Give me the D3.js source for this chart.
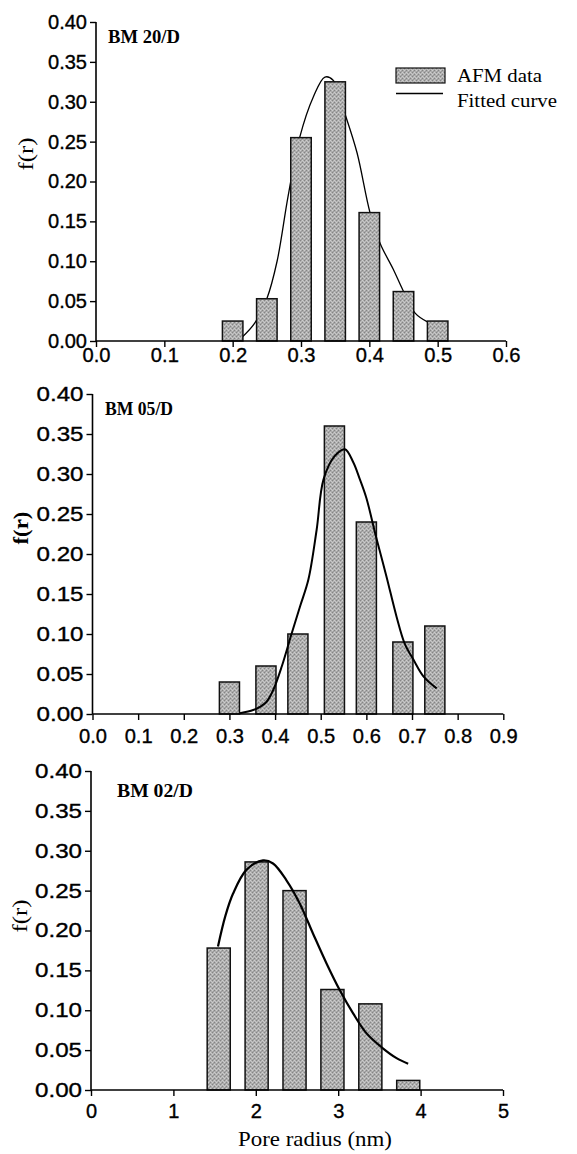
<!DOCTYPE html>
<html>
<head>
<meta charset="utf-8">
<script src="https://cdn.jsdelivr.net/npm/d3@7"></script>
<style>
  html, body { margin: 0; padding: 0; background: #fff; }
  svg { display: block; }
</style>
</head>
<body>
<svg id="chart" width="577" height="1154"></svg>
<script>
// ---------------- data ----------------
const yTickValues = [0, 0.05, 0.10, 0.15, 0.20, 0.25, 0.30, 0.35, 0.40];
const yTickLabels = ["0.00", "0.05", "0.10", "0.15", "0.20", "0.25", "0.30", "0.35", "0.40"];

// Panel 1 : BM 20/D
const p1Label = "BM 20/D";
const p1XTicks = [0, 0.1, 0.2, 0.3, 0.4, 0.5, 0.6];
const p1XTickLabels = ["0.0", "0.1", "0.2", "0.3", "0.4", "0.5", "0.6"];
const p1BarR = [0.20, 0.25, 0.30, 0.35, 0.40, 0.45, 0.50];
const p1BarF = [0.025, 0.053, 0.255, 0.325, 0.161, 0.062, 0.025];
const p1CurveR = [0.213, 0.232, 0.250, 0.265, 0.281, 0.298, 0.318, 0.335, 0.347, 0.365, 0.382, 0.401, 0.416, 0.435, 0.449, 0.467, 0.485];
const p1CurveF = [0.004, 0.022, 0.053, 0.100, 0.181, 0.255, 0.306, 0.331, 0.327, 0.283, 0.236, 0.161, 0.122, 0.090, 0.064, 0.035, 0.024];

// Panel 2 : BM 05/D
const p2Label = "BM 05/D";
const p2XTicks = [0, 0.1, 0.2, 0.3, 0.4, 0.5, 0.6, 0.7, 0.8, 0.9];
const p2XTickLabels = ["0.0", "0.1", "0.2", "0.3", "0.4", "0.5", "0.6", "0.7", "0.8", "0.9"];
const p2BarR = [0.30, 0.38, 0.45, 0.53, 0.60, 0.68, 0.75];
const p2BarF = [0.040, 0.060, 0.100, 0.360, 0.240, 0.090, 0.110];
const p2CurveR = [0.323, 0.352, 0.367, 0.381, 0.396, 0.415, 0.436, 0.455, 0.473, 0.491, 0.506, 0.530, 0.553, 0.571, 0.586, 0.600, 0.621, 0.644, 0.666, 0.684, 0.703, 0.725, 0.754];
const p2CurveF = [0.001, 0.005, 0.009, 0.015, 0.030, 0.060, 0.100, 0.135, 0.168, 0.230, 0.293, 0.322, 0.331, 0.315, 0.293, 0.270, 0.222, 0.172, 0.122, 0.088, 0.068, 0.047, 0.032];

// Panel 3 : BM 02/D
const p3Label = "BM 02/D";
const p3XTicks = [0, 1, 2, 3, 4, 5];
const p3XTickLabels = ["0", "1", "2", "3", "4", "5"];
const p3BarR = [1.55, 2.01, 2.47, 2.93, 3.39, 3.85];
const p3BarF = [0.178, 0.286, 0.250, 0.126, 0.108, 0.012];
const p3CurveR = [1.541, 1.630, 1.723, 1.886, 2.088, 2.209, 2.372, 2.533, 2.695, 2.857, 3.020, 3.181, 3.344, 3.546, 3.708, 3.849];
const p3CurveF = [0.180, 0.218, 0.246, 0.276, 0.288, 0.284, 0.263, 0.234, 0.196, 0.159, 0.125, 0.096, 0.071, 0.052, 0.040, 0.033];

const yAxisTitle = "f(r)";
const xAxisTitle = "Pore radius (nm)";
const legendBars = "AFM data";
const legendCurve = "Fitted curve";

// ---------------- drawing ----------------
const svg = d3.select("#chart");
const defs = svg.append("defs");
const pat = defs.append("pattern").attr("id", "tex")
  .attr("width", 4).attr("height", 4).attr("patternUnits", "userSpaceOnUse");
pat.append("rect").attr("width", 4).attr("height", 4).attr("fill", "#adadad");
[[0,0,"#858585"],[2,2,"#858585"],[2,0,"#cfcfcf"],[0,2,"#cfcfcf"],[1,3,"#9a9a9a"],[3,1,"#c4c4c4"],[1,1,"#bdbdbd"]]
  .forEach(([x,y,c]) => pat.append("rect").attr("x", x).attr("y", y).attr("width", 1).attr("height", 1).attr("fill", c));

const SANS = "'Liberation Sans', Arial, sans-serif";
const SERIF = "'Liberation Serif', 'Times New Roman', serif";

const panels = [
  { label: p1Label, xTicks: p1XTicks, xTickLabels: p1XTickLabels, barR: p1BarR, barF: p1BarF,
    curveR: p1CurveR, curveF: p1CurveF, xMax: 0.6, barW: 0.03,
    left: 96, right: 506, top: 22, bottom: 341, xLabOff: 21, xLabLen: 28, yLabLen: 39,
    curveW: 1.3, curveOnTop: false,
    title: { x: 108, y: 43, len: 72 }, fr: { x: 26, y: 154, bold: false } },
  { label: p2Label, xTicks: p2XTicks, xTickLabels: p2XTickLabels, barR: p2BarR, barF: p2BarF,
    curveR: p2CurveR, curveF: p2CurveF, xMax: 0.9, barW: 0.044,
    left: 92.5, right: 503.3, top: 394, bottom: 714, xLabOff: 29, xLabLen: 28, yLabLen: 47,
    curveW: 2, curveOnTop: true,
    title: { x: 105, y: 415, len: 68 }, fr: { x: 21, y: 528, bold: true } },
  { label: p3Label, xTicks: p3XTicks, xTickLabels: p3XTickLabels, barR: p3BarR, barF: p3BarF,
    curveR: p3CurveR, curveF: p3CurveF, xMax: 5, barW: 0.28,
    left: 91, right: 503, top: 771, bottom: 1090, xLabOff: 28, xLabLen: null, yLabLen: 47,
    curveW: 2.2, curveOnTop: true,
    title: { x: 117, y: 797, len: 76 }, fr: { x: 20, y: 916, bold: false } }
];

panels.forEach((p, i) => {
  const x = d3.scaleLinear().domain([0, p.xMax]).range([p.left, p.right]);
  const y = d3.scaleLinear().domain([0, 0.4]).range([p.bottom, p.top]);
  const g = svg.append("g");

  const curvePts = p.curveR.map((r, k) => [r, p.curveF[k]]);
  const line = d3.line().x(d => x(d[0])).y(d => y(d[1])).curve(d3.curveCatmullRom.alpha(0.5));

  const drawCurve = () => g.append("path").attr("d", line(curvePts))
    .attr("fill", "none").attr("stroke", "#000").attr("stroke-width", p.curveW)
    .attr("stroke-linejoin", "round");

  if (!p.curveOnTop) drawCurve();

  g.selectAll("rect.bar").data(p.barR).enter().append("rect").attr("class", "bar")
    .attr("x", (r) => x(r - p.barW / 2))
    .attr("width", x(p.barW) - x(0))
    .attr("y", (r, k) => y(p.barF[k]))
    .attr("height", (r, k) => y(0) - y(p.barF[k]))
    .attr("fill", "url(#tex)").attr("stroke", "#111").attr("stroke-width", 1.5);

  if (p.curveOnTop) drawCurve();

  // y axis
  const yAxis = d3.axisLeft(y).tickValues(yTickValues).tickSize(6).tickPadding(3)
    .tickFormat((d, k) => yTickLabels[k]);
  const ya = g.append("g").attr("transform", `translate(${p.left},0)`).call(yAxis);
  ya.select(".domain").attr("d", `M-0,${p.top}V${p.bottom}`).attr("stroke-width", 1.6);
  ya.selectAll(".tick line").attr("stroke-width", 1.4);
  ya.selectAll(".tick text").attr("font-family", SANS).attr("font-size", 20)
    .attr("fill", "#000").attr("stroke", "#000").attr("stroke-width", 0.35)
    .attr("textLength", p.yLabLen).attr("lengthAdjust", "spacingAndGlyphs");

  // x axis
  const xAxis = d3.axisBottom(x).tickValues(p.xTicks).tickSize(6).tickPadding(0)
    .tickFormat((d, k) => p.xTickLabels[k]);
  const xa = g.append("g").attr("transform", `translate(0,${p.bottom})`).call(xAxis);
  xa.select(".domain").attr("d", `M${p.left},0H${p.right}`).attr("stroke-width", 1.6);
  xa.selectAll(".tick line").attr("stroke-width", 1.4);
  const xt = xa.selectAll(".tick text").attr("font-family", SANS)
    .attr("font-size", i === 2 ? 20 : 20.5).attr("fill", "#000")
    .attr("stroke", "#000").attr("stroke-width", 0.35)
    .attr("y", p.xLabOff).attr("dy", 0);
  if (p.xLabLen) xt.attr("textLength", p.xLabLen).attr("lengthAdjust", "spacingAndGlyphs");

  // panel title
  g.append("text").attr("x", p.title.x).attr("y", p.title.y).text(p.label)
    .attr("font-family", SERIF).attr("font-weight", "bold").attr("font-size", 18.5)
    .attr("textLength", p.title.len).attr("lengthAdjust", "spacingAndGlyphs");

  // y axis title
  g.append("text").attr("transform", `translate(${p.fr.x},${p.fr.y}) rotate(-90)`)
    .attr("text-anchor", "middle").attr("dy", "0.35em").text(yAxisTitle)
    .attr("font-family", SERIF).attr("font-size", 21)
    .attr("font-weight", p.fr.bold ? "bold" : "normal")
    .attr("textLength", 33).attr("lengthAdjust", "spacingAndGlyphs");

  if (i === 0) {
    const lg = g.append("g");
    lg.append("rect").attr("x", 396).attr("y", 68).attr("width", 49).attr("height", 15)
      .attr("fill", "url(#tex)").attr("stroke", "#111").attr("stroke-width", 1.2);
    lg.append("line").attr("x1", 396).attr("x2", 443).attr("y1", 93.5).attr("y2", 93.5)
      .attr("stroke", "#000").attr("stroke-width", 1.4);
    lg.append("text").attr("x", 457).attr("y", 82).text(legendBars)
      .attr("font-family", SERIF).attr("font-size", 19.5)
      .attr("textLength", 85).attr("lengthAdjust", "spacingAndGlyphs");
    lg.append("text").attr("x", 457).attr("y", 107).text(legendCurve)
      .attr("font-family", SERIF).attr("font-size", 19.5)
      .attr("textLength", 100).attr("lengthAdjust", "spacingAndGlyphs");
  }
  if (i === 2) {
    g.append("text").attr("x", 315).attr("y", 1146).attr("text-anchor", "middle")
      .text(xAxisTitle).attr("font-family", SERIF).attr("font-size", 21.5)
      .attr("textLength", 154).attr("lengthAdjust", "spacingAndGlyphs");
  }
});
</script>
</body>
</html>
